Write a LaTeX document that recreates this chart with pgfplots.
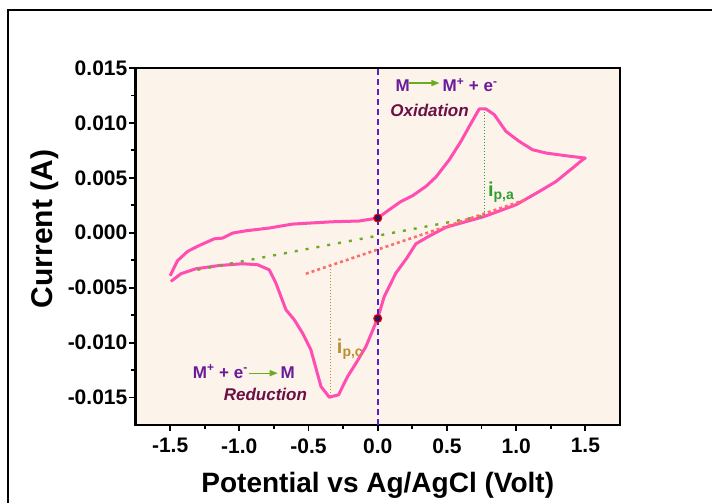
\documentclass[border=0pt]{standalone}
\usepackage{fontspec}
\setmainfont{Liberation Sans}
\usepackage{pgfplots}
\pgfplotsset{compat=1.18}
\usetikzlibrary{arrows.meta}

\definecolor{bgcol}{HTML}{FCF3EA}
\definecolor{cvpink}{HTML}{FF4DB2}
\definecolor{zeroline}{HTML}{5A1FC4}
\definecolor{basegreen}{HTML}{6FA82A}
\definecolor{basered}{HTML}{FF6E6E}
\definecolor{ipagreen}{HTML}{2F9E2F}
\definecolor{ipcgold}{HTML}{B8902E}
\definecolor{eqpurple}{HTML}{6A1B9A}
\definecolor{procmaroon}{HTML}{6B0F45}
\definecolor{arrowgreen}{HTML}{6AAB1F}
\definecolor{dotnavy}{HTML}{2B1858}

\begin{document}
\begin{tikzpicture}
\begin{axis}[
  at={(0,0)}, anchor=south west,
  scale only axis, width=484.5pt, height=357pt,
  xmin=-1.75, xmax=1.75, ymin=-0.0175, ymax=0.015,
  axis background/.style={fill=bgcol},
  axis line style={black, line width=2.2pt},
  xtick={-1.5,-1.0,-0.5,0,0.5,1.0,1.5},
  xticklabels={-1.5,-1.0,-0.5,0.0,0.5,1.0,1.5},
  ytick={-0.015,-0.01,-0.005,0,0.005,0.01,0.015},
  yticklabels={-0.015,-0.010,-0.005,0.000,0.005,0.010,0.015},
  scaled y ticks=false,
  minor x tick num=1, minor y tick num=1,
  tick align=outside, xtick pos=lower, ytick pos=left,
  major tick length=6pt, minor tick length=4pt,
  tick style={black, line width=1.8pt},
  ticklabel style={font=\fontsize{21}{21}\selectfont\bfseries},
  yticklabel style={inner xsep=2pt},
  xticklabel style={yshift=-4pt},
  xlabel={Potential vs Ag/AgCl (Volt)},
  ylabel={Current (A)},
  label style={font=\fontsize{28}{28}\selectfont\bfseries},
  xlabel style={at={(rel axis cs:0.5,0)}, anchor=base, yshift=-67pt},
  ylabel style={at={(axis description cs:-0.1723,0.549)}, anchor=base, font=\fontsize{30}{30}\selectfont\bfseries},
  clip=false,
]
% cyclic voltammogram
\addplot[cvpink, line width=3pt, line join=round] coordinates {
 (-1.500,-0.00392) (-1.447,-0.00255) (-1.374,-0.00170) (-1.290,-0.00116)
 (-1.181,-0.00055) (-1.121,-0.00049) (-1.049,-0.00003) (-0.952,0.00018)
 (-0.784,0.00043) (-0.616,0.00079) (-0.495,0.00088) (-0.327,0.00100)
 (-0.134,0.00107) (0.000,0.00134) (0.083,0.00210) (0.168,0.00285)
 (0.251,0.00337) (0.348,0.00422) (0.420,0.00507) (0.517,0.00665)
 (0.601,0.00832) (0.661,0.00968) (0.733,0.01127) (0.782,0.01127)
 (0.842,0.01075) (0.926,0.00923) (1.022,0.00832) (1.118,0.00756)
 (1.215,0.00726) (1.360,0.00701) (1.499,0.00680)
 (1.480,0.00665) (1.408,0.00590) (1.288,0.00467) (1.167,0.00376)
 (0.999,0.00255) (0.770,0.00148) (0.600,0.00088) (0.493,0.00050)
 (0.372,-0.00030) (0.276,-0.00100) (0.210,-0.00230) (0.131,-0.00367)
 (0.047,-0.00580) (0.000,-0.00777) (-0.085,-0.01035) (-0.157,-0.01187)
 (-0.218,-0.01309) (-0.283,-0.01475) (-0.350,-0.01497) (-0.410,-0.01400)
 (-0.483,-0.01066) (-0.543,-0.00914) (-0.603,-0.00792) (-0.663,-0.00701)
 (-0.736,-0.00458) (-0.784,-0.00337) (-0.868,-0.00291) (-0.977,-0.00282)
 (-1.145,-0.00298) (-1.314,-0.00328) (-1.422,-0.00373) (-1.494,-0.00443)
};
% baselines
\addplot[basegreen, line width=2.4pt, dash pattern=on 3pt off 8pt] coordinates {(-1.302,-0.00337) (0.770,0.00157)};
\addplot[basered, line width=2.6pt, dash pattern=on 3pt off 3pt] coordinates {(-0.519,-0.00373) (1.082,0.00307)};
% peak currents
\addplot[ipagreen, line width=1pt, dotted] coordinates {(0.770,0.01127) (0.770,0.00155)};
\addplot[ipcgold, line width=1pt, dotted] coordinates {(-0.338,-0.01490) (-0.338,-0.00296)};
% zero potential
\addplot[zeroline, line width=1.8pt, dash pattern=on 6pt off 4pt] coordinates {(0,-0.0175) (0,0.015)};
\addplot[only marks, mark=*, mark size=4pt, mark options={fill=dotnavy, draw=red, line width=1pt}] coordinates {(0,0.00134) (0,-0.0078)};

% annotations
\begin{scope}[every node/.style={font=\fontsize{17}{17}\selectfont\bfseries, inner sep=0pt, anchor=base west}]
\node[text=eqpurple] at (axis cs:0.128,0.01287) {M};
\draw[arrowgreen, line width=1.3pt, -{Triangle[length=8pt,width=6pt]}] (axis cs:0.229,0.01363) -- (axis cs:0.446,0.01363);
\node[text=eqpurple] at (axis cs:0.467,0.01287) {M\textsuperscript{+} + e\textsuperscript{-}};
\node[text=procmaroon, font=\fontsize{17}{17}\selectfont\bfseries\itshape] at (axis cs:0.0896,0.01054) {Oxidation};

\node[text=eqpurple] at (axis cs:-1.337,-0.01323) {M\textsuperscript{+} + e\textsuperscript{-}};
\draw[arrowgreen, line width=1.3pt, -{Triangle[length=8pt,width=6pt]}] (axis cs:-0.932,-0.01278) -- (axis cs:-0.7225,-0.01278);
\node[text=eqpurple] at (axis cs:-0.703,-0.01323) {M};
\node[text=procmaroon, font=\fontsize{17}{17}\selectfont\bfseries\itshape] at (axis cs:-1.113,-0.0153) {Reduction};

\node[text=ipagreen, font=\fontsize{20}{20}\selectfont\bfseries] at (axis cs:0.795,0.00331) {i\textsubscript{p,a}};
\node[text=ipcgold, font=\fontsize{20}{20}\selectfont\bfseries] at (axis cs:-0.296,-0.01102) {i\textsubscript{p,c}};
\end{scope}
\end{axis}
\draw[line width=2pt] (-127.5pt,415pt) rectangle (700pt,-200pt);
\pgfresetboundingbox
\path[use as bounding box] (-135.5pt,-78pt) rectangle (576.5pt,425pt);
\end{tikzpicture}
\end{document}
